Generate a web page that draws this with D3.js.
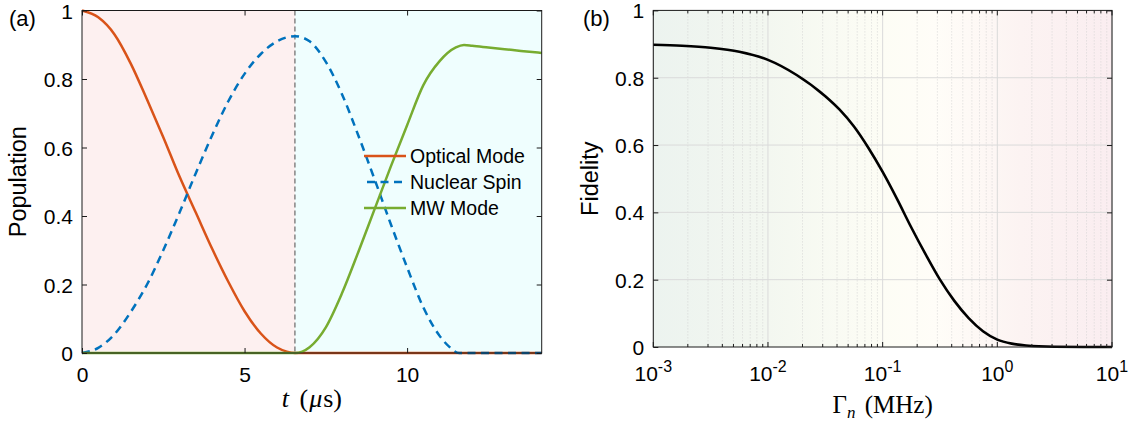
<!DOCTYPE html>
<html><head><meta charset="utf-8">
<script src="https://cdn.jsdelivr.net/npm/d3@7"></script>
<style>
body{margin:0;background:#fff}
svg{display:block}
text{font-family:"Liberation Sans",Arial,Helvetica,sans-serif;fill:#000}
</style>
</head><body>
<svg id="c" width="1135" height="424"></svg>
<script>
// ---------- data ----------
const switchT = 6.55;
const opticalT = [0,0.5,1,1.5,2,2.5,3,3.5,4,4.5,5,5.5,6,6.3,6.55,8,10,12,14.14];
const opticalP = [1,0.98,0.93,0.845,0.74,0.63,0.515,0.41,0.305,0.208,0.122,0.057,0.016,0.004,0,0,0,0,0];
const nuclearT = [0,0.5,1,1.5,2,2.5,3,3.5,4,4.5,5,5.5,6,6.55,7,7.5,8,8.5,9,9.5,10,10.5,11,11.3,11.6,12.5,13.5,14.14];
const nuclearP = [0,0.015,0.055,0.12,0.2,0.3,0.41,0.525,0.635,0.735,0.815,0.873,0.91,0.925,0.91,0.85,0.755,0.635,0.507,0.376,0.25,0.133,0.05,0.018,0,0,0,0];
const mwT = [0,2,4,6,6.55,7,7.5,8,8.5,9,9.5,10,10.5,11,11.5,11.75,12,12.5,13,13.5,14.14];
const mwP = [0,0,0,0,0,0.017,0.075,0.175,0.295,0.42,0.545,0.665,0.782,0.852,0.892,0.899,0.897,0.892,0.887,0.882,0.876];
const seriesNames = ["Optical Mode","Nuclear Spin","MW Mode"];
const gammaExp = [-3,-2.75,-2.5,-2.25,-2,-1.75,-1.5,-1.375,-1.25,-1.125,-1,-0.875,-0.75,-0.625,-0.5,-0.375,-0.25,-0.125,0,0.125,0.25,0.5,0.75,1];
const fidelity = [0.898,0.895,0.889,0.877,0.853,0.808,0.745,0.705,0.655,0.592,0.52,0.44,0.355,0.275,0.2,0.137,0.086,0.047,0.022,0.01,0.0045,0.0008,0.0001,0];
const leftXTicks = [0,5,10];
const yTicks = [0,0.2,0.4,0.6,0.8,1];
const yTickLabels = ["0","0.2","0.4","0.6","0.8","1"];
const logTicks = [1e-3,1e-2,1e-1,1e0,1e1];
const logTickExp = ["-3","-2","-1","0","1"];

// ---------- layout ----------
const svg = d3.select("#c");
const colors = {optical:"#D95319", nuclear:"#0072BD", mw:"#77AC30"};
const axisCol = "#1a1a1a";
const TICK_FS = 21;

// Left panel
const L = {x0:82, x1:541.7, y0:10.5, y1:353};
const xL = d3.scaleLinear().domain([0,14.14]).range([L.x0,L.x1]);
const yL = d3.scaleLinear().domain([0,1]).range([L.y1,L.y0]);
const gL = svg.append("g");
gL.append("rect").attr("x",xL(0)).attr("y",L.y0).attr("width",xL(switchT)-xL(0)).attr("height",L.y1-L.y0).attr("fill","#fdf0f0");
gL.append("rect").attr("x",xL(switchT)).attr("y",L.y0).attr("width",xL(14.14)-xL(switchT)).attr("height",L.y1-L.y0).attr("fill","#effefe");
gL.append("line").attr("x1",xL(switchT)).attr("x2",xL(switchT)).attr("y1",L.y0).attr("y2",L.y1)
  .attr("stroke","#4d4d4d").attr("stroke-width",1).attr("stroke-dasharray","5,3");

const lineL = (T)=>d3.line().x((d,i)=>xL(T[i])).y(d=>yL(d)).curve(d3.curveMonotoneX);
gL.append("path").datum(opticalP).attr("d",lineL(opticalT)).attr("fill","none").attr("stroke",colors.optical).attr("stroke-width",2.5);
gL.append("path").datum(nuclearP).attr("d",lineL(nuclearT)).attr("fill","none").attr("stroke",colors.nuclear).attr("stroke-width",2.5).attr("stroke-dasharray","8,5.5");
gL.append("path").datum(mwP).attr("d",lineL(mwT)).attr("fill","none").attr("stroke",colors.mw).attr("stroke-width",2.5);

function frame(g, P){
  g.append("rect").attr("x",P.x0).attr("y",P.y0).attr("width",P.x1-P.x0).attr("height",P.y1-P.y0)
   .attr("fill","none").attr("stroke",axisCol).attr("stroke-width",1);
}
frame(gL,L);
gL.append("g").attr("transform",`translate(0,${L.y1})`).call(d3.axisBottom(xL).tickValues(leftXTicks).tickSize(-5).tickFormat(d3.format("d")))
  .call(a=>{a.select(".domain").remove();a.selectAll("line").attr("stroke",axisCol);a.selectAll("text").attr("font-size",TICK_FS).attr("y",10).attr("dy","0.9em");});
gL.append("g").attr("transform",`translate(0,${L.y0})`).call(d3.axisTop(xL).tickValues(leftXTicks).tickSize(-5).tickFormat(""))
  .call(a=>{a.select(".domain").remove();a.selectAll("line").attr("stroke",axisCol);});
gL.append("g").attr("transform",`translate(${L.x0},0)`).call(d3.axisLeft(yL).tickValues(yTicks).tickSize(-5).tickFormat((d,i)=>yTickLabels[i]))
  .call(a=>{a.select(".domain").remove();a.selectAll("line").attr("stroke",axisCol);a.selectAll("text").attr("font-size",TICK_FS).attr("x",-9).attr("dy","0.36em");});
gL.append("g").attr("transform",`translate(${L.x1},0)`).call(d3.axisRight(yL).tickValues(yTicks).tickSize(-5).tickFormat(""))
  .call(a=>{a.select(".domain").remove();a.selectAll("line").attr("stroke",axisCol);});

// legend
const leg = gL.append("g");
const legCols = [colors.optical,colors.nuclear,colors.mw];
seriesNames.forEach((n,i)=>{
  const yy = 156 + i*26;
  const ln = leg.append("line").attr("x1",364).attr("x2",406).attr("y1",yy).attr("y2",yy).attr("stroke",legCols[i]).attr("stroke-width",2.5);
  if(i===1) ln.attr("stroke-dasharray","8,5.5").attr("stroke-dashoffset",-3);
  leg.append("text").attr("x",410).attr("y",yy).attr("dy","0.36em").attr("font-size",19.5).text(n);
});

// labels left
svg.append("text").attr("x",9).attr("y",26).attr("font-size",22).text("(a)");
svg.append("text").attr("transform",`translate(26,${(L.y0+L.y1)/2}) rotate(-90)`).attr("text-anchor","middle").attr("font-size",23.5).text("Population");
const xlabL = svg.append("text").attr("x",(L.x0+L.x1)/2).attr("y",407).attr("text-anchor","middle").attr("font-size",26)
  .style("font-family","'Liberation Serif','DejaVu Serif',serif");
xlabL.append("tspan").attr("font-style","italic").text("t");
xlabL.append("tspan").attr("dx",4).text(" (");
xlabL.append("tspan").attr("font-style","italic").attr("dx",1).text("μ");
xlabL.append("tspan").attr("dx",1).text("s)");

// Right panel
const R = {x0:653.3, x1:1112, y0:10.4, y1:347};
const xR = d3.scaleLog().domain([1e-3,1e1]).range([R.x0,R.x1]);
const yR = d3.scaleLinear().domain([0,1]).range([R.y1,R.y0]);
const gR = svg.append("g");
const defs = svg.append("defs");
const grad = defs.append("linearGradient").attr("id","bgR").attr("x1","0%").attr("x2","100%").attr("y1","0%").attr("y2","0%");
[["0%","#ecf3ef"],["25%","#f3f7f0"],["50%","#fdfdf5"],["62%","#fffdf8"],["80%","#fcf3f2"],["100%","#faedf0"]]
  .forEach(s=>grad.append("stop").attr("offset",s[0]).attr("stop-color",s[1]));
gR.append("rect").attr("x",R.x0).attr("y",R.y0).attr("width",R.x1-R.x0).attr("height",R.y1-R.y0).attr("fill","url(#bgR)");

const minorVals = [];
for(let e=-3;e<1;e++){ for(let k=2;k<=9;k++) minorVals.push(k*Math.pow(10,e)); }
gR.selectAll(".mg").data(minorVals).join("line").attr("x1",d=>xR(d)).attr("x2",d=>xR(d)).attr("y1",R.y0).attr("y2",R.y1)
  .attr("stroke","#cfcfcf").attr("stroke-width",0.8).attr("stroke-dasharray","1,2");
gR.selectAll(".Mg").data(logTicks).join("line").attr("x1",d=>xR(d)).attr("x2",d=>xR(d)).attr("y1",R.y0).attr("y2",R.y1)
  .attr("stroke","#dadada").attr("stroke-width",1);
gR.selectAll(".hg").data(yTicks.slice(1,-1)).join("line").attr("x1",R.x0).attr("x2",R.x1).attr("y1",d=>yR(d)).attr("y2",d=>yR(d))
  .attr("stroke","#dadada").attr("stroke-width",1);

const lineR = d3.line().x((d,i)=>xR(Math.pow(10,gammaExp[i]))).y(d=>yR(d)).curve(d3.curveMonotoneX);
gR.append("path").datum(fidelity).attr("d",lineR).attr("fill","none").attr("stroke","#000").attr("stroke-width",2.6);

frame(gR,R);
function logTicksAt(yPos, dir){
  gR.selectAll(null).data(minorVals).join("line").attr("x1",d=>xR(d)).attr("x2",d=>xR(d)).attr("y1",yPos).attr("y2",yPos+dir*3).attr("stroke",axisCol);
  gR.selectAll(null).data(logTicks).join("line").attr("x1",d=>xR(d)).attr("x2",d=>xR(d)).attr("y1",yPos).attr("y2",yPos+dir*5).attr("stroke",axisCol);
}
logTicksAt(R.y1,-1); logTicksAt(R.y0,1);
gR.append("g").attr("transform",`translate(${R.x0},0)`).call(d3.axisLeft(yR).tickValues(yTicks).tickSize(-5).tickFormat((d,i)=>yTickLabels[i]))
  .call(a=>{a.select(".domain").remove();a.selectAll("line").attr("stroke",axisCol);a.selectAll("text").attr("font-size",TICK_FS).attr("x",-9).attr("dy","0.36em");});
gR.append("g").attr("transform",`translate(${R.x1},0)`).call(d3.axisRight(yR).tickValues(yTicks).tickSize(-5).tickFormat(""))
  .call(a=>{a.select(".domain").remove();a.selectAll("line").attr("stroke",axisCol);});
logTicks.forEach((v,i)=>{
  const t = gR.append("text").attr("x",xR(v)).attr("y",381).attr("text-anchor","middle").attr("font-size",TICK_FS);
  t.append("tspan").text("10");
  t.append("tspan").attr("dy",-9).attr("font-size",16).text(logTickExp[i]);
});

svg.append("text").attr("x",583).attr("y",26).attr("font-size",22).text("(b)");
svg.append("text").attr("transform",`translate(598,${(R.y0+R.y1)/2}) rotate(-90)`).attr("text-anchor","middle").attr("font-size",23.5).text("Fidelity");
const xlabR = svg.append("text").attr("x",(R.x0+R.x1)/2).attr("y",413).attr("text-anchor","middle").attr("font-size",25)
  .style("font-family","'Liberation Serif','DejaVu Serif',serif");
xlabR.append("tspan").text("Γ");
xlabR.append("tspan").attr("font-style","italic").attr("font-size",17).attr("dy",5).text("n");
xlabR.append("tspan").attr("dy",-5).attr("dx",3).text(" (MHz)");
</script>
</body></html>
